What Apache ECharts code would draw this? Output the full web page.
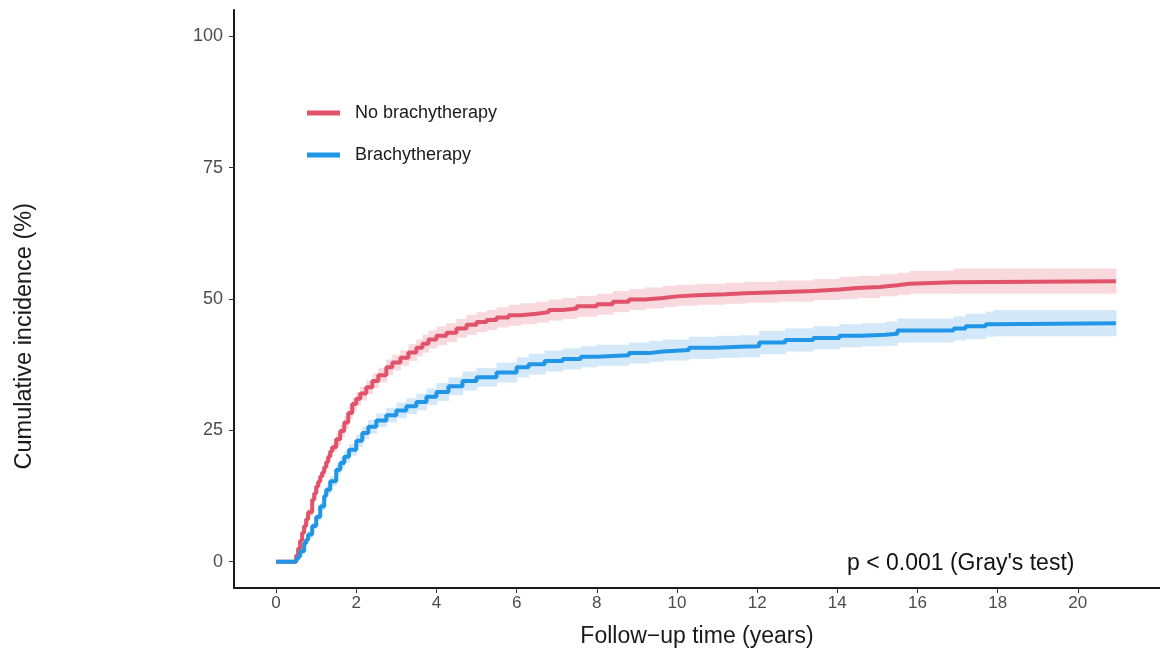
<!DOCTYPE html>
<html>
<head>
<meta charset="utf-8">
<title>Cumulative incidence by brachytherapy</title>
<script src="https://cdn.jsdelivr.net/npm/echarts@6/dist/echarts.min.js"></script>
<style>
  html, body { margin: 0; padding: 0; background: #fff; }
  #chart { width: 1160px; height: 652px; }
</style>
</head>
<body>
<div id="chart"></div>
<script>
// tick labels
var xTicks = [0, 2, 4, 6, 8, 10, 12, 14, 16, 18, 20];
var yTicks = [0, 25, 50, 75, 100];

// No brachytherapy: time (years), cumulative incidence (%), CI half-width
var redTimes = [0, 0.5, 0.55, 0.6, 0.65, 0.7, 0.75, 0.8, 0.9, 0.95, 1.0, 1.05, 1.1, 1.15, 1.2, 1.25, 1.3, 1.35, 1.4,
  1.5, 1.6, 1.7, 1.8, 1.9, 2.0, 2.1, 2.25, 2.4, 2.55, 2.75, 2.9, 3.1, 3.3, 3.5, 3.65, 3.8, 4.0, 4.25, 4.5, 4.75, 5.0,
  5.25, 5.5, 5.8, 6.1, 6.5, 6.8, 7.15, 7.5, 8.0, 8.4, 8.8, 9.2, 9.65, 10.0, 10.5, 11.2, 11.7, 12.5, 13.4, 14.05,
  14.5, 15.05, 15.5, 15.8, 16.9, 20.95];
var redValues = [0, 1.2, 2.5, 4, 5.5, 6.8, 8.1, 9.4, 11.8, 13, 14.3, 15.2, 16.2, 17, 18, 19, 20, 21, 21.8,
  23.3, 24.9, 26.5, 28.3, 30, 31, 32, 33.2, 34.4, 35.5, 37, 37.9, 38.8, 39.8, 40.7, 41.5, 42.3, 43, 43.6, 44.4, 45.1, 45.6,
  46.0, 46.5, 46.9, 47.2, 47.5, 47.9, 48.2, 48.6, 49.0, 49.5, 49.9, 50.2, 50.5, 50.7, 50.9, 51.1, 51.3, 51.5, 51.8, 52.1,
  52.3, 52.6, 52.9, 53.2, 53.4, 53.4];
var redCi = [0, 0.5, 0.5, 0.6, 0.6, 0.6, 0.7, 0.7, 0.7, 0.8, 0.9, 0.9, 0.9, 0.9, 0.9, 0.9, 0.9, 0.9, 0.9,
  1.1, 1.1, 1.2, 1.2, 1.2, 1.3, 1.3, 1.3, 1.4, 1.4, 1.5, 1.5, 1.5, 1.6, 1.6, 1.7, 1.7, 1.8, 1.8, 1.8, 1.9, 1.9,
  1.9, 1.9, 2.0, 2.0, 2.0, 2.0, 2.0, 2.0, 2.0, 2.0, 2.0, 2.0, 2.0, 2.0, 2.0, 2.0, 2.0, 2.0, 2.0, 2.1,
  2.1, 2.1, 2.1, 2.2, 2.4, 2.4];

// Brachytherapy
var blueTimes = [0, 0.5, 0.55, 0.6, 0.7, 0.75, 0.8, 0.9, 1.0, 1.1, 1.2, 1.25, 1.35, 1.5, 1.6, 1.7, 1.82, 2.0, 2.15, 2.3,
  2.5, 2.75, 3.0, 3.25, 3.5, 3.75, 4.0, 4.3, 4.65, 5.0, 5.5, 6.0, 6.3, 6.7, 7.15, 7.6, 8.0, 8.8, 9.3, 9.65,
  10.3, 11.0, 11.55, 12.05, 12.7, 13.4, 14.05, 14.6, 15.2, 15.5, 16.9, 17.2, 17.7, 17.9, 20.95];
var blueValues = [0, 0.5, 1, 2, 3.5, 4.2, 5.2, 6.8, 8.5, 10.5, 12.5, 13.7, 15.3, 17.5, 18.8, 20, 21.3, 23, 24.5, 25.7,
  26.9, 27.9, 28.8, 29.6, 30.4, 31.4, 32.3, 33.4, 34.4, 35.1, 36.0, 37.0, 37.6, 38.2, 38.6, 39.0, 39.3, 39.7, 40.0, 40.3,
  40.7, 40.9, 41.0, 41.7, 42.2, 42.6, 43.0, 43.2, 43.4, 44.0, 44.4, 44.8, 45.2, 45.4, 45.4];
var blueCi = [0, 0.4, 0.4, 0.5, 0.5, 0.5, 0.6, 0.6, 0.7, 0.8, 0.8, 0.9, 0.9, 1.0, 1.0, 1.1, 1.1, 1.2, 1.2, 1.3,
  1.3, 1.4, 1.5, 1.5, 1.6, 1.6, 1.7, 1.7, 1.8, 1.8, 1.9, 1.9, 2.0, 2.0, 2.0, 2.0, 2.0, 2.0, 2.0, 2.0,
  2.1, 2.1, 2.1, 2.2, 2.2, 2.2, 2.2, 2.2, 2.3, 2.3, 2.3, 2.4, 2.4, 2.5, 2.5];

var RED = '#E0536B', BLUE = '#2196E6';
var FONT = 'Liberation Sans, Arial, sans-serif';

function pairs(t, v) {
  return t.map(function(x, i) { return [x, v[i]]; });
}

// one row per step: [start, end, lower, upper]
function bandRows(t, v, ci) {
  return t.map(function(x, i) {
    var next = i < t.length - 1 ? t[i + 1] : x;
    return [x, next, v[i] - ci[i], v[i] + ci[i]];
  });
}

function bandSeries(name, t, v, ci, fill) {
  return {
    type: 'custom', name: name, silent: true, z: 1,
    encode: { x: [0, 1], y: [2, 3] },
    data: bandRows(t, v, ci),
    renderItem: function(params, api) {
      var topLeft = api.coord([api.value(0), api.value(3)]);
      var botRight = api.coord([api.value(1), api.value(2)]);
      var w = botRight[0] - topLeft[0];
      if (w <= 0) return null;
      return {
        type: 'rect',
        shape: { x: topLeft[0], y: topLeft[1], width: w + 0.6, height: botRight[1] - topLeft[1] },
        style: { fill: fill }
      };
    }
  };
}

var chart = echarts.init(document.getElementById('chart'), null, { renderer: 'canvas' });

chart.setOption({
  animation: false,
  backgroundColor: '#fff',
  textStyle: { fontFamily: FONT },
  grid: { left: 234, right: 0, top: 10, bottom: 64, containLabel: false, outerBoundsMode: 'none' },
  legend: {
    data: ['No brachytherapy', 'Brachytherapy'],
    orient: 'vertical', left: 302, top: 99,
    icon: 'rect', itemWidth: 33, itemHeight: 5, itemGap: 24,
    textStyle: { fontSize: 18, color: '#1a1a1a', padding: [0, 0, 0, 10] }
  },
  xAxis: {
    type: 'value', min: -1.05, max: 22.05,
    name: 'Follow\u2212up time (years)', nameLocation: 'middle', nameGap: 37,
    nameTextStyle: { fontSize: 23, color: '#1a1a1a' },
    axisLine: { show: true, onZero: false, lineStyle: { color: '#1a1a1a', width: 2 } },
    axisTick: { show: true, customValues: xTicks, length: 5, lineStyle: { color: '#333' } },
    axisLabel: { customValues: xTicks, fontSize: 17, color: '#4D4D4D', margin: 7 },
    splitLine: { show: false }
  },
  yAxis: {
    type: 'value', min: -5, max: 105,
    axisLine: { show: true, onZero: false, lineStyle: { color: '#1a1a1a', width: 2 } },
    axisTick: { show: true, customValues: yTicks, length: 5, lineStyle: { color: '#333' } },
    axisLabel: { customValues: yTicks, fontSize: 18, color: '#4D4D4D', margin: 11 },
    splitLine: { show: false }
  },
  graphic: [{
    type: 'text', left: 13, top: 203, rotation: Math.PI / 2,
    style: { text: 'Cumulative incidence (%)', fontSize: 23.5, fill: '#1a1a1a', fontFamily: FONT }
  }, {
    type: 'text', left: 847, top: 552,
    style: { text: "p < 0.001 (Gray's test)", fontSize: 23, fill: '#111', fontFamily: FONT }
  }],
  series: [
    bandSeries('redBand', redTimes, redValues, redCi, '#F8D9DE'),
    bandSeries('blueBand', blueTimes, blueValues, blueCi, '#D3E8F9'),
    {
      type: 'line', name: 'No brachytherapy', step: 'end', symbol: 'none', color: RED,
      lineStyle: { width: 4, color: RED }, data: pairs(redTimes, redValues), z: 3
    }, {
      type: 'line', name: 'Brachytherapy', step: 'end', symbol: 'none', color: BLUE,
      lineStyle: { width: 4, color: BLUE }, data: pairs(blueTimes, blueValues), z: 4
    }
  ]
});

window.addEventListener('resize', function() { chart.resize(); });
</script>
</body>
</html>
